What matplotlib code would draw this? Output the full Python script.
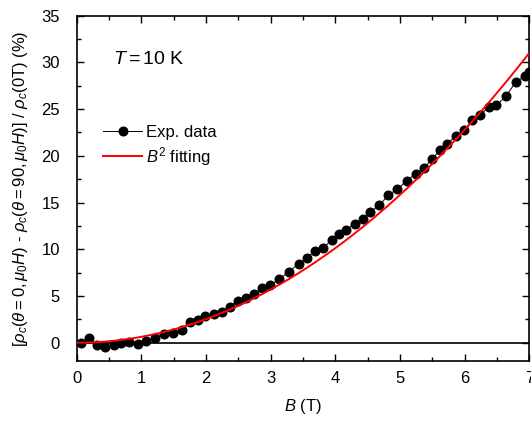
import matplotlib
matplotlib.use("Agg")
import matplotlib.pyplot as plt
import numpy as np
from matplotlib.ticker import MultipleLocator

plt.rcParams["font.family"] = ["Liberation Sans", "DejaVu Sans"]
plt.rcParams["mathtext.fontset"] = "custom"
plt.rcParams["mathtext.rm"] = "Liberation Sans"
plt.rcParams["mathtext.it"] = "Liberation Sans:italic"
plt.rcParams["mathtext.bf"] = "Liberation Sans:bold"

# experimental data: field (T) and relative anisotropy (%)
field = [0.06, 0.195, 0.32, 0.44, 0.57, 0.68, 0.81, 0.94, 1.07, 1.21,
         1.35, 1.49, 1.63, 1.75, 1.87, 1.99, 2.12, 2.25, 2.37, 2.49,
         2.61, 2.74, 2.86, 2.99, 3.13, 3.28, 3.43, 3.56, 3.68, 3.81,
         3.94, 4.06, 4.17, 4.30, 4.42, 4.54, 4.68, 4.82, 4.96, 5.10,
         5.24, 5.37, 5.50, 5.62, 5.73, 5.86, 5.99, 6.12, 6.24, 6.37,
         6.49, 6.64, 6.79, 6.93, 7.0]
ratio = [0.0, 0.54, -0.25, -0.43, -0.25, -0.07, 0.05, -0.12, 0.2, 0.54,
         0.89, 1.0, 1.36, 2.25, 2.43, 2.86, 3.03, 3.32, 3.86, 4.5,
         4.75, 5.17, 5.82, 6.17, 6.78, 7.6, 8.43, 9.03, 9.82, 10.1,
         11.0, 11.6, 12.1, 12.7, 13.2, 14.0, 14.7, 15.8, 16.45, 17.3,
         18.1, 18.7, 19.7, 20.6, 21.3, 22.1, 22.8, 23.8, 24.4, 25.2,
         25.4, 26.4, 27.9, 28.5, 29.0]

# quadratic fit coefficient (% / T^2)
fit_coef = 0.633

fig = plt.figure(figsize=(5.31, 4.21), dpi=100)
ax = fig.add_axes([0.1445, 0.1415, 0.8525, 0.8215])

b_fit = np.linspace(0, 7.1, 300)
ax.axhline(0, color="black", linewidth=1.2, zorder=1)
ax.plot(field, ratio, color="black", linewidth=0.7, marker="o",
        markersize=6.2, label="Exp. data", zorder=2)
ax.plot(b_fit, fit_coef * b_fit ** 2, color="red", linewidth=1.4,
        label=r"$B^2$ fitting", zorder=3)

ax.set_xlim(0, 7)
ax.set_ylim(-2, 35)
ax.xaxis.set_major_locator(MultipleLocator(1))
ax.xaxis.set_minor_locator(MultipleLocator(0.5))
ax.yaxis.set_major_locator(MultipleLocator(5))
ax.yaxis.set_minor_locator(MultipleLocator(2.5))
ax.tick_params(which="both", direction="in", top=True, right=True,
               labelsize=12, width=1)
ax.tick_params(which="major", length=5)
ax.tick_params(which="minor", length=3)
ax.tick_params(axis="y", which="major", pad=12)
ax.tick_params(axis="x", which="major", pad=7)
for sp in ax.spines.values():
    sp.set_linewidth(1.2)

ax.set_xlabel(r"$B$ (T)", fontsize=12, labelpad=8)
ax.set_ylabel(r"[$\rho_c(\theta = 0,\mu_0H)$ - $\rho_c(\theta = 90,\mu_0H)$] / $\rho_c$(0T) (%)",
              fontsize=12, labelpad=8)

ax.text(0.56, 29.8, r"$T = 10$ K", fontsize=14)
ax.legend(loc="upper left", bbox_to_anchor=(0.058, 0.684), frameon=False,
          fontsize=12, handlelength=2.35, handletextpad=0.25, labelspacing=0.3,
          borderaxespad=0, borderpad=0)

fig.savefig("out.png", dpi=100)
